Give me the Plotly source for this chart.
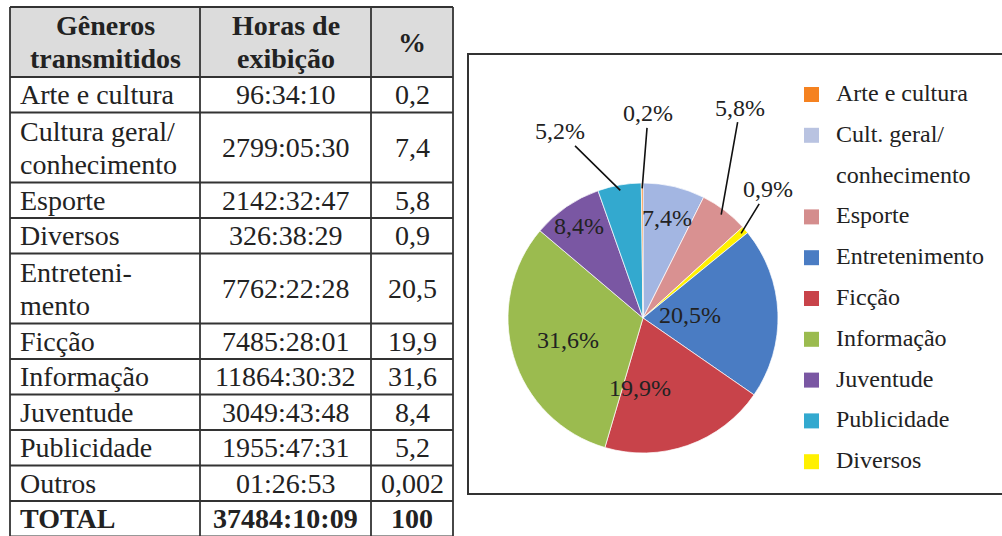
import math
import plotly.graph_objects as go

# ---------------- data ----------------
generos = ["Arte e cultura", "Cultura geral/<br>conhecimento", "Esporte", "Diversos",
           "Entreteni-<br>mento", "Ficção", "Informação", "Juventude", "Publicidade", "Outros"]
horas = ["96:34:10", "2799:05:30", "2142:32:47", "326:38:29", "7762:22:28",
         "7485:28:01", "11864:30:32", "3049:43:48", "1955:47:31", "01:26:53"]
percent = ["0,2", "7,4", "5,8", "0,9", "20,5", "19,9", "31,6", "8,4", "5,2", "0,002"]
header = ["Gêneros<br>transmitidos", "Horas de<br>exibição", "%"]
total_row = ["TOTAL", "37484:10:09", "100"]

pie_labels = ["Cult. geral/conhecimento", "Esporte", "Diversos", "Entretenimento", "Ficção",
              "Informação", "Juventude", "Publicidade", "Arte e cultura"]
pie_values = [7.4, 5.8, 0.9, 20.5, 19.9, 31.6, 8.4, 5.2, 0.2]
pie_colors = ["#A3B6E2", "#D99191", "#FFF000", "#4A7CC3", "#C8434A",
              "#9BBB4F", "#7A57A3", "#33A9CF", "#F58220"]

legend_labels = ["Arte e cultura", "Cult. geral/<br>conhecimento", "Esporte", "Entretenimento",
                 "Ficção", "Informação", "Juventude", "Publicidade", "Diversos"]
legend_colors = ["#F58220", "#B9C3E1", "#D48D8D", "#4A7CC3", "#C8434A",
                 "#9BBB4F", "#7A57A3", "#33A9CF", "#FFF000"]

# ---------------- layout helpers ----------------
W, H = 1002, 536
FONT = "Liberation Serif, Times New Roman, serif"
TXT = "#222222"
LINE = "#333333"


def X(x):
    return x / W


def Y(y):
    return 1 - y / H


shapes = []
annotations = []

# ---------------- table ----------------
tx0, tx1 = 10, 453
col_x = [10, 200, 371, 453]
single_h, double_h = 35.5, 70
line_gap = 33
fs_table = 28

rows = [header] + [[g, h, p] for g, h, p in zip(generos, horas, percent)] + [total_row]
bounds = [7]
for r in rows:
    n = max(c.count("<br>") + 1 for c in r)
    bounds.append(bounds[-1] + (double_h if n > 1 else single_h))

# header fill
shapes.append(dict(type="rect", xref="paper", yref="paper", x0=X(tx0), x1=X(tx1),
                   y0=Y(bounds[1]), y1=Y(bounds[0]), fillcolor="#DCDCDC", line_width=0, layer="below"))

for i, r in enumerate(rows):
    yc = (bounds[i] + bounds[i + 1]) / 2
    bold = (i == 0) or (i == len(rows) - 1)
    for j, cell in enumerate(r):
        lines = cell.split("<br>")
        n = len(lines)
        for k, ln in enumerate(lines):
            yy = yc + (k - (n - 1) / 2) * line_gap
            if j == 0 and i != 0:
                xx, xa = 18, "left"
            else:
                xx, xa = (col_x[j] + col_x[j + 1]) / 2, "center"
            annotations.append(dict(
                x=X(xx), y=Y(yy), xref="paper", yref="paper", showarrow=False,
                xanchor=xa, yanchor="middle",
                text=f"<b>{ln}</b>" if bold else ln,
                font=dict(family=FONT, size=fs_table, color=TXT)))

# table grid lines
for b in bounds:
    shapes.append(dict(type="line", xref="paper", yref="paper", x0=X(tx0), x1=X(tx1),
                       y0=Y(b), y1=Y(b), line=dict(color=LINE, width=1.8)))
for cx in col_x:
    shapes.append(dict(type="line", xref="paper", yref="paper", x0=X(cx), x1=X(cx),
                       y0=Y(bounds[0]), y1=Y(bounds[-1]), line=dict(color=LINE, width=1.8)))

# ---------------- pie ----------------
cx, cy, R = 643, 318, 135
fig = go.Figure()
fig.add_trace(go.Pie(
    labels=pie_labels, values=pie_values, sort=False, direction="clockwise", rotation=0,
    marker=dict(colors=pie_colors, line=dict(color="rgba(255,255,255,0.7)", width=1)),
    textinfo="none", hoverinfo="label+percent", showlegend=False,
    domain=dict(x=[X(cx - R), X(cx + R)], y=[Y(cy + R), Y(cy - R)]),
))

# chart frame
shapes.append(dict(type="rect", xref="paper", yref="paper", x0=X(468), x1=X(1012),
                   y0=Y(494), y1=Y(54), line=dict(color=LINE, width=2), fillcolor="rgba(0,0,0,0)"))

# slice labels
label_style = {
    "Cult. geral/conhecimento": ("in", 0.76),
    "Esporte": ("out", (19, -107)),
    "Diversos": ("out", (27, -44)),
    "Entretenimento": ("in", 0.59),
    "Ficção": ("in", 0.67),
    "Informação": ("in", 0.58),
    "Juventude": ("in", 0.83),
    "Publicidade": ("out", (-60, -59)),
    "Arte e cultura": ("out", (6, -75)),
}
tot = sum(pie_values)
cum = 0.0
for lab, v in zip(pie_labels, pie_values):
    mid = (cum + v / 2) / tot * 2 * math.pi
    cum += v
    txt = f"{v:.1f}".replace(".", ",") + "%"
    kind, par = label_style[lab]
    if kind == "in":
        r = par * R
        annotations.append(dict(
            x=X(cx + r * math.sin(mid)), y=Y(cy - r * math.cos(mid)), xref="paper", yref="paper",
            showarrow=False, text=txt, font=dict(family=FONT, size=24, color=TXT)))
    else:
        r = 0.96 * R
        annotations.append(dict(
            x=X(cx + r * math.sin(mid)), y=Y(cy - r * math.cos(mid)), xref="paper", yref="paper",
            showarrow=True, arrowhead=0, arrowwidth=1.6, arrowcolor="#111111",
            ax=par[0], ay=par[1], text=txt, font=dict(family=FONT, size=24, color=TXT)))

# custom legend
leg_y0, leg_step = 93, 40.8
slot = 0
for lab, col in zip(legend_labels, legend_colors):
    yy = leg_y0 + slot * leg_step
    shapes.append(dict(type="rect", xref="paper", yref="paper", x0=X(804), x1=X(819),
                       y0=Y(yy + 9), y1=Y(yy - 6), fillcolor=col, line_width=0))
    for k, ln in enumerate(lab.split("<br>")):
        annotations.append(dict(
            x=X(834), y=Y(yy + k * leg_step), xref="paper", yref="paper", showarrow=False,
            xanchor="left", yanchor="middle", text=ln,
            font=dict(family=FONT, size=24, color=TXT)))
    slot += len(lab.split("<br>"))

fig.update_layout(
    width=W, height=H, margin=dict(l=0, r=0, t=0, b=0),
    paper_bgcolor="white", plot_bgcolor="white",
    shapes=shapes, annotations=annotations, showlegend=False,
)
fig.write_html("out.html", config={"displayModeBar": False},
               post_script="document.body.style.margin='0px';"
                           "document.body.style.overflow='hidden';")
